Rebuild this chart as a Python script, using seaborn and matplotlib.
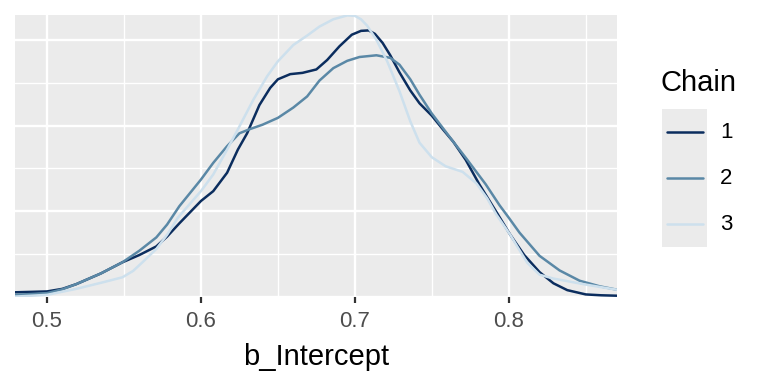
import numpy as np
import pandas as pd
import seaborn as sns
import matplotlib
matplotlib.use("Agg")
import matplotlib.pyplot as plt
from matplotlib.lines import Line2D
from matplotlib.patches import Rectangle
from matplotlib.ticker import MultipleLocator

# ---- data (density of b_Intercept per chain) ----
chain1_x = [0.4792, 0.490, 0.500, 0.510, 0.519, 0.535, 0.549, 0.560, 0.571, 0.578, 0.586,
            0.600, 0.608, 0.617, 0.624, 0.630, 0.638, 0.645, 0.650, 0.658, 0.666, 0.675,
            0.682, 0.690, 0.698, 0.704, 0.709, 0.713, 0.718, 0.723, 0.729, 0.736, 0.742,
            0.750, 0.757, 0.764, 0.772, 0.781, 0.792, 0.801, 0.810, 0.820, 0.829, 0.838,
            0.850, 0.860, 0.8703]
chain1_d = [0.11, 0.12, 0.13, 0.19, 0.30, 0.55, 0.81, 0.98, 1.18, 1.41, 1.72,
            2.24, 2.47, 2.90, 3.44, 3.82, 4.48, 4.88, 5.08, 5.20, 5.23, 5.31,
            5.53, 5.85, 6.12, 6.21, 6.22, 6.14, 5.93, 5.64, 5.24, 4.82, 4.52,
            4.23, 3.92, 3.62, 3.20, 2.62, 1.98, 1.45, 0.98, 0.58, 0.32, 0.16,
            0.06, 0.04, 0.03]

chain2_x = [0.4792, 0.490, 0.500, 0.510, 0.519, 0.535, 0.549, 0.560, 0.571, 0.578, 0.586,
            0.600, 0.608, 0.617, 0.625, 0.632, 0.640, 0.650, 0.660, 0.669, 0.677, 0.686,
            0.695, 0.703, 0.714, 0.723, 0.729, 0.736, 0.742, 0.750, 0.757, 0.764, 0.772,
            0.785, 0.794, 0.800, 0.807, 0.820, 0.833, 0.846, 0.859, 0.8703]
chain2_d = [0.05, 0.07, 0.09, 0.18, 0.30, 0.55, 0.81, 1.08, 1.39, 1.69, 2.12,
            2.74, 3.13, 3.52, 3.82, 3.92, 4.02, 4.18, 4.42, 4.68, 5.05, 5.34,
            5.51, 5.60, 5.64, 5.58, 5.42, 5.08, 4.72, 4.28, 3.95, 3.62, 3.25,
            2.63, 2.14, 1.85, 1.50, 0.96, 0.62, 0.38, 0.25, 0.17]

chain3_x = [0.4792, 0.490, 0.500, 0.519, 0.536, 0.549, 0.556, 0.562, 0.571, 0.578, 0.585,
            0.600, 0.608, 0.617, 0.625, 0.634, 0.643, 0.650, 0.660, 0.669, 0.677, 0.686,
            0.695, 0.700, 0.704, 0.708, 0.714, 0.721, 0.729, 0.736, 0.742, 0.750, 0.759,
            0.770, 0.779, 0.786, 0.792, 0.801, 0.806, 0.812, 0.820, 0.829, 0.838, 0.850,
            0.860, 0.8703]
chain3_d = [0.01, 0.03, 0.05, 0.19, 0.34, 0.46, 0.61, 0.81, 1.12, 1.45, 1.85,
            2.47, 2.86, 3.44, 3.98, 4.60, 5.15, 5.50, 5.88, 6.10, 6.31, 6.48,
            6.57, 6.56, 6.48, 6.33, 6.00, 5.50, 4.80, 4.10, 3.60, 3.26, 3.05,
            2.92, 2.65, 2.30, 1.92, 1.45, 1.15, 0.80, 0.52, 0.43, 0.37, 0.29,
            0.23, 0.17]

chains = ["1", "2", "3"]
chain_colors = ["#0b2d5e", "#5a88a6", "#cde0ed"]
x_label = "b_Intercept"
legend_title = "Chain"
x_ticks = [0.5, 0.6, 0.7, 0.8]

df = pd.concat([
    pd.DataFrame({"value": chain1_x, "density": chain1_d, "Chain": "1"}),
    pd.DataFrame({"value": chain2_x, "density": chain2_d, "Chain": "2"}),
    pd.DataFrame({"value": chain3_x, "density": chain3_d, "Chain": "3"}),
])

sns.set_theme(style="white")
plt.rcParams["font.family"] = ["Liberation Sans", "DejaVu Sans"]

W, H = 768, 384
fig = plt.figure(figsize=(W / 100, H / 100), dpi=100)
L, R, T, B = 15, 617, 15, 297
ax = fig.add_axes([L / W, 1 - B / H, (R - L) / W, (B - T) / H])
ax.set_facecolor("#ebebeb")

sns.lineplot(data=df, x="value", y="density", hue="Chain", hue_order=chains,
             palette=dict(zip(chains, chain_colors)), estimator=None, sort=True,
             linewidth=1.8, legend=False, ax=ax)
for ln in ax.lines:
    ln.set_solid_joinstyle("round")
    ln.set_solid_capstyle("round")

ax.set_xlim(0.4792, 0.8703)
ax.set_ylim(0.02, 6.58)
ax.set_xticks(x_ticks)
ax.set_xticklabels([f"{t:.1f}" for t in x_ticks])
ax.xaxis.set_minor_locator(MultipleLocator(0.05))
ax.set_yticks([0, 2, 4, 6])
ax.yaxis.set_minor_locator(MultipleLocator(1))
ax.grid(which="major", color="white", linewidth=1.7)
ax.grid(which="minor", color="white", linewidth=1.0)
ax.set_axisbelow(True)
for s in ax.spines.values():
    s.set_visible(False)
ax.tick_params(axis="x", which="major", length=4, width=1.6, color="#333333",
               labelsize=16, labelcolor="#4d4d4d", pad=6, bottom=True)
ax.tick_params(axis="x", which="minor", length=0)
ax.tick_params(axis="y", which="both", length=0, labelleft=False)
ax.set_ylabel("")
ax.set_xlabel(x_label, fontsize=21, color="black", labelpad=8)

# legend (ggplot-style)
def fx(px):
    return px / W

def fy(py):
    return 1 - py / H

fig.text(fx(661), fy(83), legend_title, fontsize=21, color="black", va="center", ha="left")
fig.patches.append(Rectangle((fx(662), fy(247)), fx(707) - fx(662), fy(109) - fy(247),
                             transform=fig.transFigure, facecolor="#ebebeb", edgecolor="none"))
key_y = [132, 178, 224]
for c, col, ky in zip(chains, chain_colors, key_y):
    fig.lines.append(Line2D([fx(667), fx(703)], [fy(ky), fy(ky)], transform=fig.transFigure,
                            color=col, linewidth=1.8))
    fig.text(fx(720), fy(ky), c, fontsize=16, color="black", va="center", ha="left")

fig.savefig("out.png", dpi=100, facecolor="white")
